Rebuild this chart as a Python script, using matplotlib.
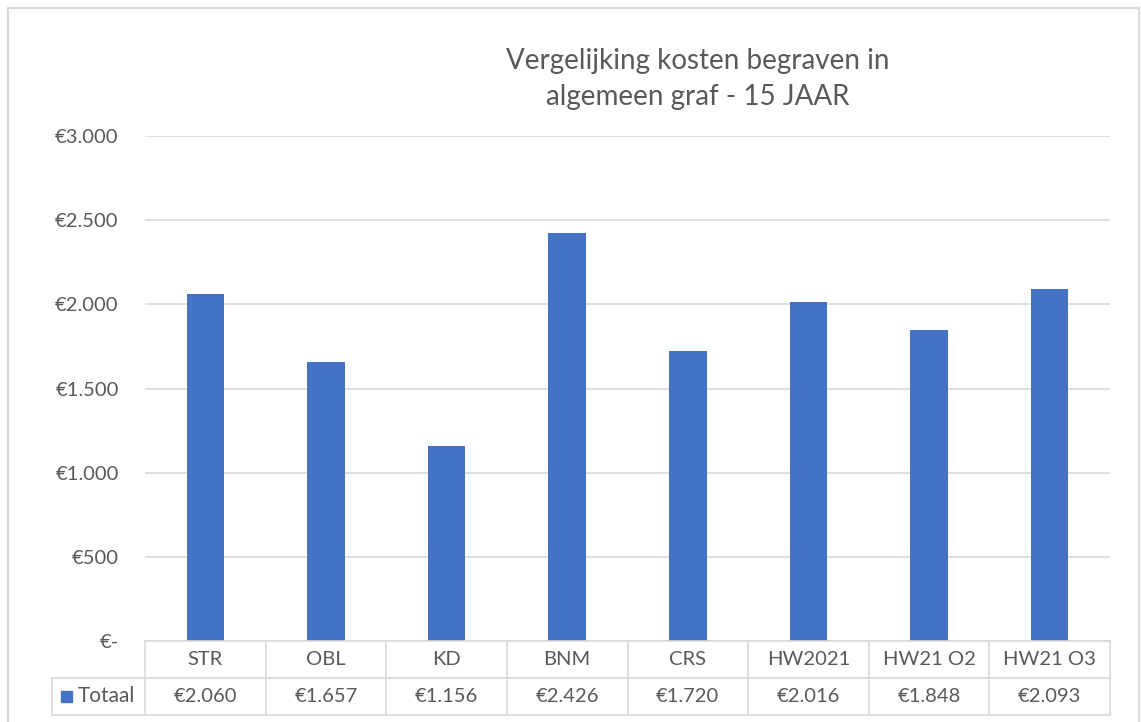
import matplotlib
matplotlib.use("Agg")
import matplotlib.pyplot as plt
from matplotlib.lines import Line2D
from matplotlib.patches import Rectangle

categories = ["STR", "OBL", "KD", "BNM", "CRS", "HW2021", "HW21 O2", "HW21 O3"]
totaal = [2060, 1657, 1156, 2426, 1720, 2016, 1848, 2093]
series_name = "Totaal"
title = "Vergelijking kosten begraven in\nalgemeen graf - 15 JAAR"
yticks = [0, 500, 1000, 1500, 2000, 2500, 3000]

W, H = 1141, 722
BAR = "#4472C4"
TXT = "#595959"
GRID = "#D9D9D9"
FS = 14.5
plt.rcParams['font.family'] = ['Lato', 'DejaVu Sans']


def euro(v):
    if v == 0:
        return "€-"
    return "€" + "{:,}".format(v).replace(",", ".")


def fx(px):
    return px / W


def fy(py):
    return 1 - py / H


def main():
    fig = plt.figure(figsize=(W / 100, H / 100), dpi=100)

    # chart border
    for (x0, y0, x1, y1) in [(8, 8, 1139, 8), (8, 8, 8, 722), (1139, 8, 1139, 722)]:
        fig.add_artist(Line2D([fx(x0), fx(x1)], [fy(y0), fy(y1)], color=GRID, lw=1.5))

    left, right, top, bottom = 145, 1110, 136, 641
    ax = fig.add_axes([fx(left), fy(bottom), fx(right - left), (bottom - top) / H])
    n = len(categories)
    ax.bar(range(n), totaal, width=0.31, color=BAR, zorder=3)
    ax.set_xlim(-0.5, n - 0.5)
    ax.set_ylim(0, 3000)
    ax.set_yticks(yticks)
    ax.set_yticklabels([euro(v) for v in yticks])
    ax.yaxis.grid(True, color=GRID, lw=1.2)
    ax.set_xticks([])
    for s in ax.spines.values():
        s.set_visible(False)
    ax.tick_params(axis='y', length=0, pad=19, labelsize=FS, labelcolor=TXT)

    fig.text(fx(698), fy(79), title, ha='center', va='center', fontsize=20,
             color=TXT, linespacing=1.5)

    # data table
    r0, r1, r2 = 641, 678, 715
    colw = (right - left) / n
    lg = 52
    tl = dict(color=GRID, lw=1.2)
    fig.add_artist(Line2D([fx(left), fx(right)], [fy(r0), fy(r0)], **tl))
    fig.add_artist(Line2D([fx(lg), fx(right)], [fy(r1), fy(r1)], **tl))
    fig.add_artist(Line2D([fx(lg), fx(right)], [fy(r2), fy(r2)], **tl))
    fig.add_artist(Line2D([fx(lg), fx(lg)], [fy(r1), fy(r2)], **tl))
    for i in range(n + 1):
        x = left + i * colw
        fig.add_artist(Line2D([fx(x), fx(x)], [fy(r0), fy(r2)], **tl))
    for i, (c, v) in enumerate(zip(categories, totaal)):
        xc = left + (i + 0.5) * colw
        fig.text(fx(xc), fy((r0 + r1) / 2), c, ha='center', va='center',
                 fontsize=FS, color=TXT)
        fig.text(fx(xc), fy((r1 + r2) / 2), euro(v), ha='center', va='center',
                 fontsize=FS, color=TXT)
    fig.add_artist(Rectangle((fx(61), fy(702)), fx(11), 11 / H, color=BAR,
                             transform=fig.transFigure))
    fig.text(fx(78), fy((r1 + r2) / 2), series_name, ha='left', va='center',
             fontsize=15, color=TXT)

    fig.savefig("out.png", dpi=100)
    plt.close(fig)


if __name__ == "__main__":
    main()
